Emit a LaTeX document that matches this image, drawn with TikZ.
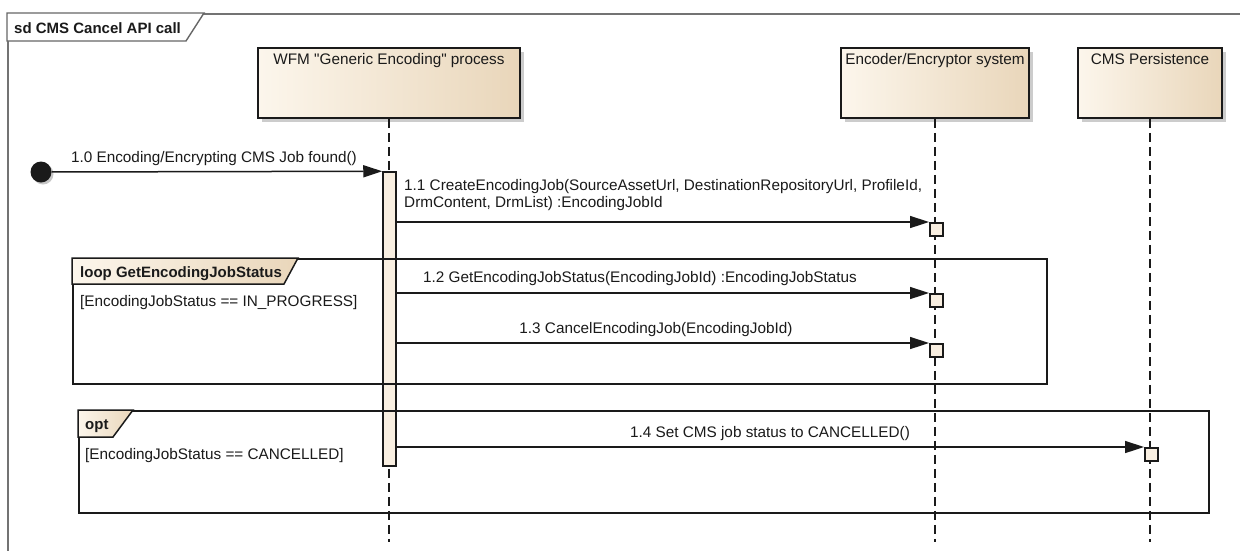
\documentclass[tikz,border=0pt]{standalone}
\usepackage{fontspec}
\setmainfont{Liberation Sans}[Ligatures=TeXOff]
\usetikzlibrary{arrows.meta,shadows}
\definecolor{boxL}{HTML}{FCF6EC}
\definecolor{boxR}{HTML}{E9D6BA}
\definecolor{actfill}{HTML}{F9EFE1}
\definecolor{ink}{HTML}{1A1A1A}
\tikzset{
  lifebox/.style={draw=ink, line width=1.6pt, left color=boxL, right color=boxR,
    minimum height=70pt, inner sep=0pt,
    drop shadow={shadow xshift=4pt, shadow yshift=-4pt, fill=black!20, opacity=1}},
  boxtitle/.style={anchor=north, inner sep=6pt},
  lifeline/.style={draw=ink, line width=1.4pt, dash pattern=on 9pt off 5pt},
  actbar/.style={draw=ink, line width=1.5pt, fill=actfill, minimum width=13pt, inner sep=0pt},
  recvbox/.style={draw=ink, line width=1.5pt, fill=actfill, minimum width=13pt, minimum height=13pt, inner sep=0pt, anchor=north west},
  msg/.style={draw=ink, line width=1.5pt, -{Triangle[length=19pt,width=12pt]}},
  msglabel/.style={anchor=base, inner sep=0pt},
  fragment/.style={draw=ink, line width=1.9pt, anchor=north west, inner sep=0pt},
  fraglabel/.style={draw=ink, line width=1.5pt, left color=boxL, right color=boxR},
  fragtext/.style={anchor=base west, inner sep=0pt, font=\fontsize{15}{17}\selectfont\bfseries},
  guardtext/.style={anchor=base west, inner sep=0pt},
}
\begin{document}
\begin{tikzpicture}[x=1pt,y=-1pt, font=\fontsize{15.3}{17}\selectfont, text=ink]
\useasboundingbox (0,0) rectangle (1240,550);
\clip (0,0) rectangle (1240,550);
\fill[white] (0,0) rectangle (1240,550);

% outer frame
\node[draw=black!55, line width=1.8pt, anchor=north west, minimum width=1260pt, minimum height=560pt, inner sep=0pt] (sd) at (7,13) {};
\path[draw=black!60, line width=1.4pt, fill=white] (7,13) -- (204,13) -- (186,41) -- (7,41) -- cycle;
\node[fragtext] (sdlabel) at (14,33) {sd CMS Cancel API call};

% lifeline heads
\node[lifebox, minimum width=262pt] (wfm) at (389,83) {};
\node[boxtitle] (wfmt) at (wfm.north) {WFM "Generic Encoding" process};
\node[lifebox, minimum width=188pt] (enc) at (935,83) {};
\node[boxtitle] (enct) at (enc.north) {Encoder/Encryptor system};
\node[lifebox, minimum width=144pt] (cms) at (1150,83) {};
\node[boxtitle] (cmst) at (cms.north) {CMS Persistence};

% lifelines
\coordinate (wfmend) at (389,542);
\coordinate (encend) at (935,542);
\coordinate (cmsend) at (1150,542);
\draw[lifeline] (wfm.south) -- (wfmend);
\draw[lifeline] (enc.south) -- (encend);
\draw[lifeline] (cms.south) -- (cmsend);

% activation
\node[actbar, minimum height=294pt] (act) at (389.5,319) {};

% start
\node[circle, fill=ink, minimum size=21pt, inner sep=0pt,
  drop shadow={shadow xshift=2pt, shadow yshift=-2pt, fill=black!22, opacity=1}] (start) at (41,172) {};

% receive boxes
\node[recvbox] (r1) at (929,222) {};
\node[recvbox] (r2) at (929,293) {};
\node[recvbox] (r3) at (929,343) {};
\node[recvbox] (r4) at (1144,447) {};

% messages
\draw[msg] (start) -- (act.north west);
\node[msglabel] (l0) at (214,162) {1.0 Encoding/Encrypting CMS Job found()};

\draw[msg] (act.east |- r1.north west) -- (r1.north west);
\node[guardtext] (l1a) at (404,190) {1.1 CreateEncodingJob(SourceAssetUrl, DestinationRepositoryUrl, ProfileId,};
\node[guardtext] (l1b) at (404,207) {DrmContent, DrmList) :EncodingJobId};

\draw[msg] (act.east |- r2.north west) -- (r2.north west);
\node[msglabel] (l2) at (640,282) {1.2 GetEncodingJobStatus(EncodingJobId) :EncodingJobStatus};

\draw[msg] (act.east |- r3.north west) -- (r3.north west);
\node[msglabel] (l3) at (656,333) {1.3 CancelEncodingJob(EncodingJobId)};

\draw[msg] (act.east |- r4.north west) -- (r4.north west);
\node[msglabel] (l4) at (770,437) {1.4 Set CMS job status to CANCELLED()};

% loop fragment
\node[fragment, minimum width=974pt, minimum height=125pt] (loopf) at (72,258) {};
\path[fraglabel] (72,258) -- (298,258) -- (284,284) -- (72,284) -- cycle;
\node[fragtext] (loopt) at (80,277) {loop GetEncodingJobStatus};
\node[guardtext] (loopg) at (80,306) {[EncodingJobStatus == IN\_PROGRESS]};

% opt fragment
\node[fragment, minimum width=1130pt, minimum height=102pt] (optf) at (78,410) {};
\path[fraglabel] (78,410) -- (133,410) -- (113,437) -- (78,437) -- cycle;
\node[fragtext] (optt) at (85,429) {opt};
\node[guardtext] (optg) at (85,459) {[EncodingJobStatus == CANCELLED]};
\end{tikzpicture}
\end{document}
